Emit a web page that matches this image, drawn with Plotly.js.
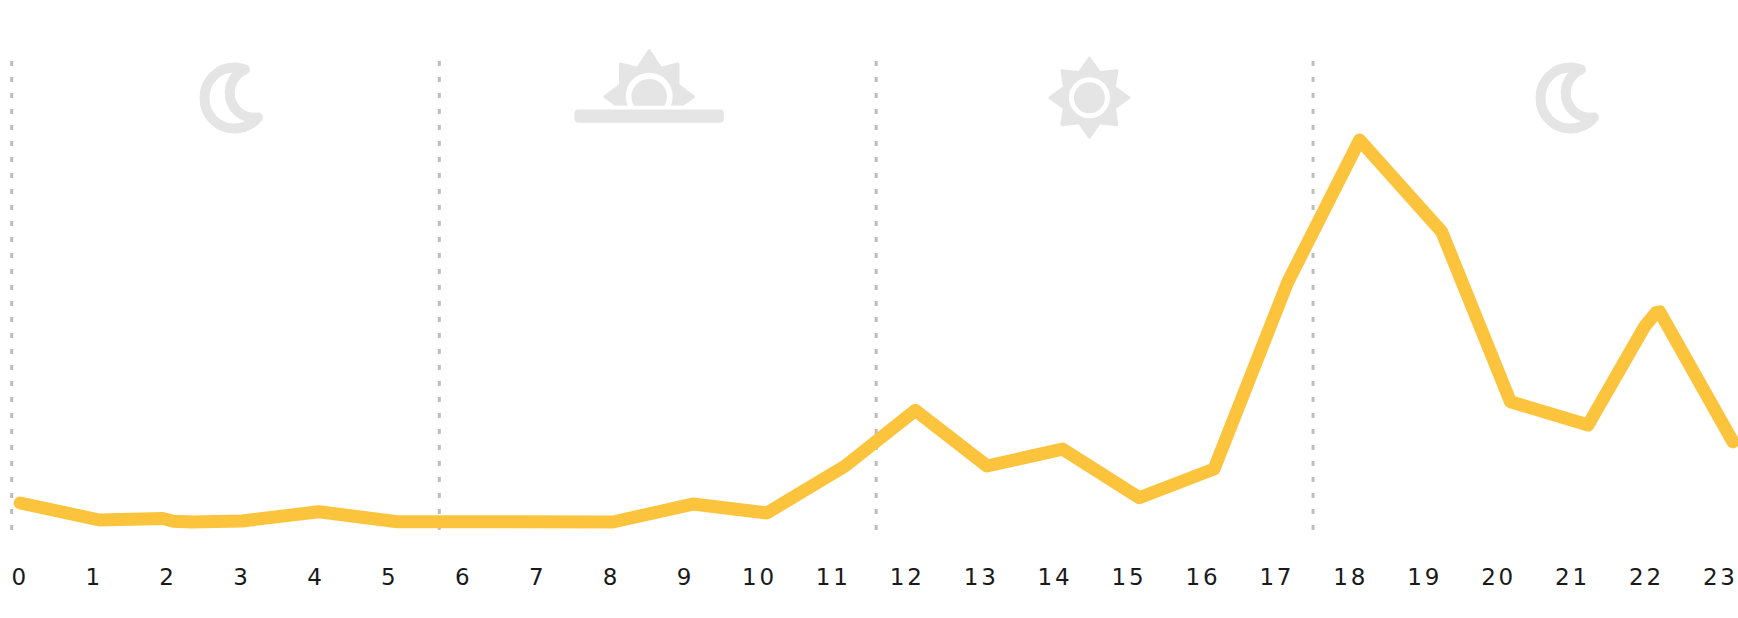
<!DOCTYPE html>
<html>
<head>
<meta charset="utf-8">
<script src="https://cdn.plot.ly/plotly-3.0.1.min.js"></script>
<style>
html,body{margin:0;padding:0;background:#fff;overflow:hidden}
.xtick text{letter-spacing:2.8px}
.layer-above .shapelayer path{stroke-linejoin:round;stroke-linecap:round}
.js-line{stroke-linecap:round !important;stroke-linejoin:round !important}
</style>
</head>
<body>
<div id="chart" style="width:1738px;height:618px"></div>
<script>
const hourLabels = ["0","1","2","3","4","5","6","7","8","9","10","11","12","13","14","15","16","17","18","19","20","21","22","23"];
const hourTicks = hourLabels.map(Number);
const seriesX = [0.02,1.09,1.95,2.09,2.34,3.02,4.06,5.12,8.04,9.12,10.12,11.18,12.13,13.1,14.12,15.16,16.17,17.17,18.14,19.25,20.18,21.23,22.0,22.08,22.15,22.2,22.27,23.19];
const seriesY = [4.97,0.52,0.9,0.2,0,0.25,2.7,0.08,0,4.7,2.36,14.66,29.2,14.66,19.1,6.36,13.87,62.9,100,76,31.5,25.4,51.3,53.6,54.8,55,52.6,21];
const dividerHours = [-0.095,5.69,11.6,17.51];
const labelNudge = 0.02;

const W = 1738, PH = 556;
const px = x => x / W;
const py = y => 1 - y / PH;
function pathOf(cmds){
  return cmds.map(c => c[0] + c.slice(1).map((v,i) => i%2===0 ? px(v) : py(v)).join(' ')).join(' ') ;
}
const GREY = '#E5E5E5';
const shapes = [];
dividerHours.forEach(h => shapes.push({type:'line',layer:'below',xref:'x',yref:'paper',x0:h,x1:h,y0:py(61),y1:py(530),
  line:{color:'#BDBDBD',width:3,dash:'5px,11px'}}));

function pathShape(cmds,o){
  shapes.push(Object.assign({type:'path',layer:'above',xref:'paper',yref:'paper',path:pathOf(cmds)+(o&&o.close?' Z':'')},
    {fillcolor:(o&&o.fill)||'rgba(0,0,0,0)',line:{color:(o&&o.stroke)||GREY,width:(o&&o.w)||0}}));
}
function ell(cx,cy,rx,ry,color){
  shapes.push({type:'circle',layer:'above',xref:'paper',yref:'paper',x0:px(cx-rx),x1:px(cx+rx),y0:py(cy+ry),y1:py(cy-ry),fillcolor:color,line:{width:0}});
}
function moon(dx){
  pathShape([
    ['M',245+dx,69.5],
    ['C',241+dx,68.2,238+dx,67.5,234.5+dx,67.5],
    ['C',217.5+dx,67.5,204.5+dx,81,204.5+dx,98],
    ['C',204.5+dx,115,217.5+dx,128.5,234.5+dx,128.5],
    ['C',244+dx,128.5,252+dx,124.5,258+dx,117.5],
    ['C',242+dx,119,229.7+dx,108,229.7+dx,93],
    ['C',229.7+dx,83,236+dx,73,245+dx,69.5]
  ],{close:true,w:10});
}
moon(0); moon(1336);

// sunrise
pathShape([
  ['M',649.2,50.5],['L',660.7,68.3],['L',678,64],['L',677.9,85],['L',693.5,96.7],['L',682.9,104.2],
  ['L',615.5,104.2],['L',604.9,96.7],['L',620.5,85],['L',620.4,64],['L',637.7,68.3]
],{close:true,fill:GREY,w:3});
ell(649.2,96.2,23.5,23.5,'#FFFFFF');
ell(649.2,96.5,17.8,17.5,GREY);
shapes.push({type:'rect',layer:'above',xref:'paper',yref:'paper',x0:px(570),x1:px(730),y0:py(125),y1:py(105.7),fillcolor:'#FFFFFF',line:{width:0}});
pathShape([['M',578.5,113.5],['L',719.8,113.5],['L',719.8,118.8],['L',578.5,118.8]],{close:true,fill:GREY,w:8});

// sun
const sc=1089.4, sy=97.7;
const star=[[0,-39.5],[10.1,-25],[27.5,-27],[24.9,-10.4],[39.5,0],[24.9,10.4],[27.5,27],[10.1,25],[0,39.5],[-10.1,25],[-27.5,27],[-24.9,10.4],[-39.5,0],[-24.9,-10.4],[-27.5,-27],[-10.1,-25]];
pathShape(star.map((p,i)=>[i?'L':'M',sc+p[0],sy+p[1]]),{close:true,fill:GREY,w:3});
ell(sc,sy,20.5,20.5,'#FFFFFF');
ell(sc,sy,15.5,15.5,GREY);

Plotly.newPlot('chart',[{
  type:'scatter',mode:'lines',x:seriesX,y:seriesY,cliponaxis:false,hoverinfo:'skip',
  line:{color:'#FCC43D',width:13,shape:'linear'}
}],{
  width:W,height:618,
  margin:{l:0,r:0,t:0,b:62,pad:0},
  paper_bgcolor:'#fff',plot_bgcolor:'#fff',showlegend:false,
  xaxis:{range:[-18.7/73.92,(W-18.7)/73.92],tickmode:'array',tickvals:hourTicks.map(h=>h+labelNudge),ticktext:hourLabels,
    showgrid:false,zeroline:false,showline:false,ticks:'',ticklabelstandoff:5,
    tickfont:{family:'"DejaVu Sans"',size:23,color:'#1a1a1a'}},
  yaxis:{range:[(522-PH)/3.82,522/3.82],visible:false,fixedrange:true},
  shapes:shapes
},{displayModeBar:false,staticPlot:true});
</script>
</body>
</html>
